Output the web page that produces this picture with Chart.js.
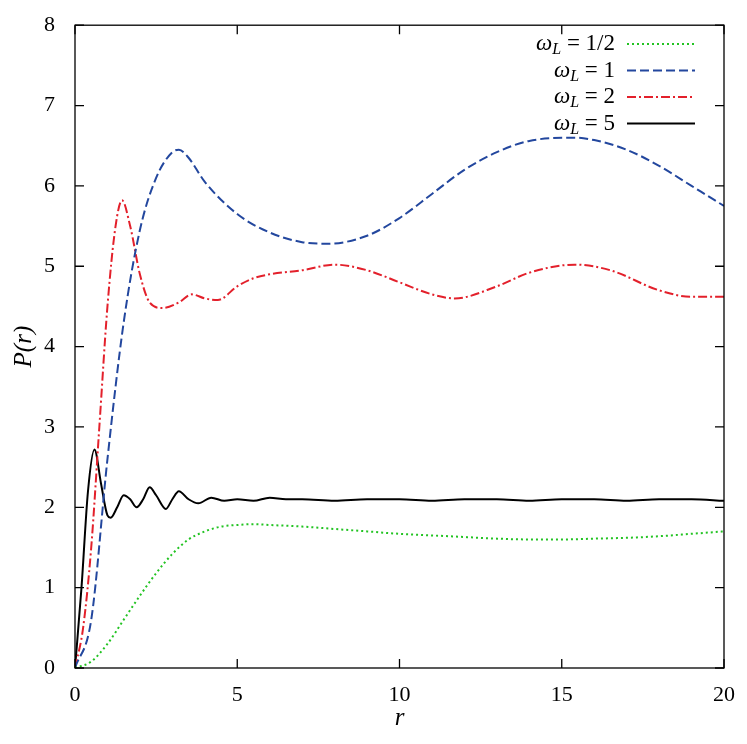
<!DOCTYPE html>
<html><head><script src="https://cdn.jsdelivr.net/npm/chart.js@4"></script>
<style>html,body{margin:0;padding:0;background:#fff}</style></head>
<body><div style="width:747px;height:744px"><canvas id="c"></canvas></div>
<script>
const labels=["1/2","1","2","5"];
const rGreen=[0,0.5,1,1.5,2,2.5,3,3.5,4,4.5,5,5.5,6,7,8,9,10,11,12,13,14,15,16,17,18,19,20];
const pGreen=[0,0.08,0.3,0.6,0.9,1.18,1.42,1.6,1.7,1.76,1.78,1.79,1.78,1.76,1.73,1.7,1.67,1.65,1.63,1.61,1.6,1.6,1.61,1.62,1.64,1.67,1.7];
const rBlue=[0,0.5,1,1.5,2,2.5,3,3.2,3.5,4,5,6,7,7.8,9,10,11,12,13,14,15.4,16,17,18,19,20];
const pBlue=[0,0.6,2.6,4.3,5.45,6.1,6.42,6.45,6.35,6.05,5.65,5.42,5.3,5.28,5.38,5.6,5.9,6.2,6.42,6.56,6.6,6.57,6.45,6.25,6.0,5.75];
const rRed=[0,0.25,0.5,0.75,1,1.25,1.45,1.7,2,2.3,2.7,3.2,3.6,4,4.4,5,5.5,6,7,8,9,10,11,11.7,13,14,15.4,16.5,18,19,20];
const pRed=[0,0.5,1.5,3,4.5,5.5,5.82,5.5,4.9,4.55,4.48,4.55,4.65,4.6,4.58,4.75,4.85,4.9,4.95,5.02,4.95,4.8,4.65,4.6,4.75,4.92,5.02,4.95,4.7,4.62,4.62];
const rBlack=[0,0.2,0.4,0.6,0.8,1.0,1.1,1.3,1.5,1.7,1.9,2.1,2.3,2.5,2.8,3.0,3.2,3.5,3.8,4.2,4.6,5,5.5,6,6.5,7,8,9,10,11,12,13,14,15,16,17,18,19,20];
const pBlack=[0,1,2.2,2.72,2.3,1.9,1.87,2.0,2.15,2.1,2.0,2.1,2.25,2.15,1.98,2.1,2.2,2.1,2.05,2.12,2.08,2.1,2.08,2.12,2.1,2.1,2.08,2.1,2.1,2.08,2.1,2.1,2.08,2.1,2.1,2.08,2.1,2.1,2.08];
const xTicks=[0,5,10,15,20], yTicks=[0,1,2,3,4,5,6,7,8];
const colors=["#22c322","#23479e","#e3202b","#000000"];
const dashes=[[2,3],[9,4],[9,3,2,3],[]];
const pairs=(r,p)=>r.map((x,i)=>({x,y:p[i]}));
const sets=[[rGreen,pGreen],[rBlue,pBlue],[rRed,pRed],[rBlack,pBlack]];
const F='"Liberation Serif","DejaVu Serif",serif';
const deco={id:'deco',afterDraw(ch){
 const c=ch.ctx,a=ch.chartArea,xs=ch.scales.x,ys=ch.scales.y;
 c.save();c.strokeStyle='#000';c.lineWidth=1.3;c.setLineDash([]);
 c.strokeRect(a.left,a.top,a.right-a.left,a.bottom-a.top);
 c.beginPath();
 xTicks.forEach(v=>{const x=xs.getPixelForValue(v);c.moveTo(x,a.bottom);c.lineTo(x,a.bottom-9);c.moveTo(x,a.top);c.lineTo(x,a.top+9);});
 yTicks.forEach(v=>{const y=ys.getPixelForValue(v);c.moveTo(a.left,y);c.lineTo(a.left+9,y);c.moveTo(a.right,y);c.lineTo(a.right-9,y);});
 c.stroke();
 labels.forEach((l,i)=>{
  const y=44+i*26.5;
  const rest=' = '+l;
  c.font='23px '+F;const wr=c.measureText(rest).width;
  c.font='italic 16px '+F;const wl=c.measureText('L').width;
  c.font='italic 23px '+F;const ww=c.measureText('ω').width;
  let x=615-wr-wl-ww;
  c.fillStyle='#000';c.textBaseline='middle';c.textAlign='left';
  c.fillText('ω',x,y);x+=ww;
  c.font='italic 16px '+F;c.fillText('L',x,y+6);x+=wl;
  c.font='23px '+F;c.fillText(rest,x,y);
  c.strokeStyle=colors[i];c.lineWidth=2;c.setLineDash(dashes[i]);
  c.beginPath();c.moveTo(627,y);c.lineTo(695,y);c.stroke();
 });
 c.setLineDash([]);c.fillStyle='#000';
 c.font='italic 25px '+F;c.textAlign='center';c.fillText('r',(a.left+a.right)/2,718);
 c.save();c.translate(24,(a.top+a.bottom)/2);c.rotate(-Math.PI/2);c.font='italic 25px '+F;c.fillText('P(r)',0,0);c.restore();
 c.restore();
}};
new Chart(document.getElementById('c'),{type:'scatter',
 data:{datasets:sets.map((s,i)=>({data:pairs(s[0],s[1]),showLine:true,borderColor:colors[i],borderWidth:2,borderDash:dashes[i],pointRadius:0,cubicInterpolationMode:'monotone',fill:false}))},
 options:{responsive:true,maintainAspectRatio:false,animation:false,
  layout:{padding:{top:20,right:23,left:0,bottom:0}},
  plugins:{legend:{display:false},tooltip:{enabled:false}},
  scales:{
   x:{type:'linear',min:0,max:20,afterFit(s){s.height=76;},afterBuildTicks(s){s.ticks=xTicks.map(v=>({value:v}));},
      grid:{display:false},border:{display:false},ticks:{font:{family:F,size:22},color:'#000',padding:6,maxRotation:0}},
   y:{min:0,max:8,afterFit(s){s.width=75;},afterBuildTicks(s){s.ticks=yTicks.map(v=>({value:v}));},
      grid:{display:false},border:{display:false},ticks:{font:{family:F,size:22},color:'#000',padding:12}}
  }},
 plugins:[deco]});
</script></body></html>
